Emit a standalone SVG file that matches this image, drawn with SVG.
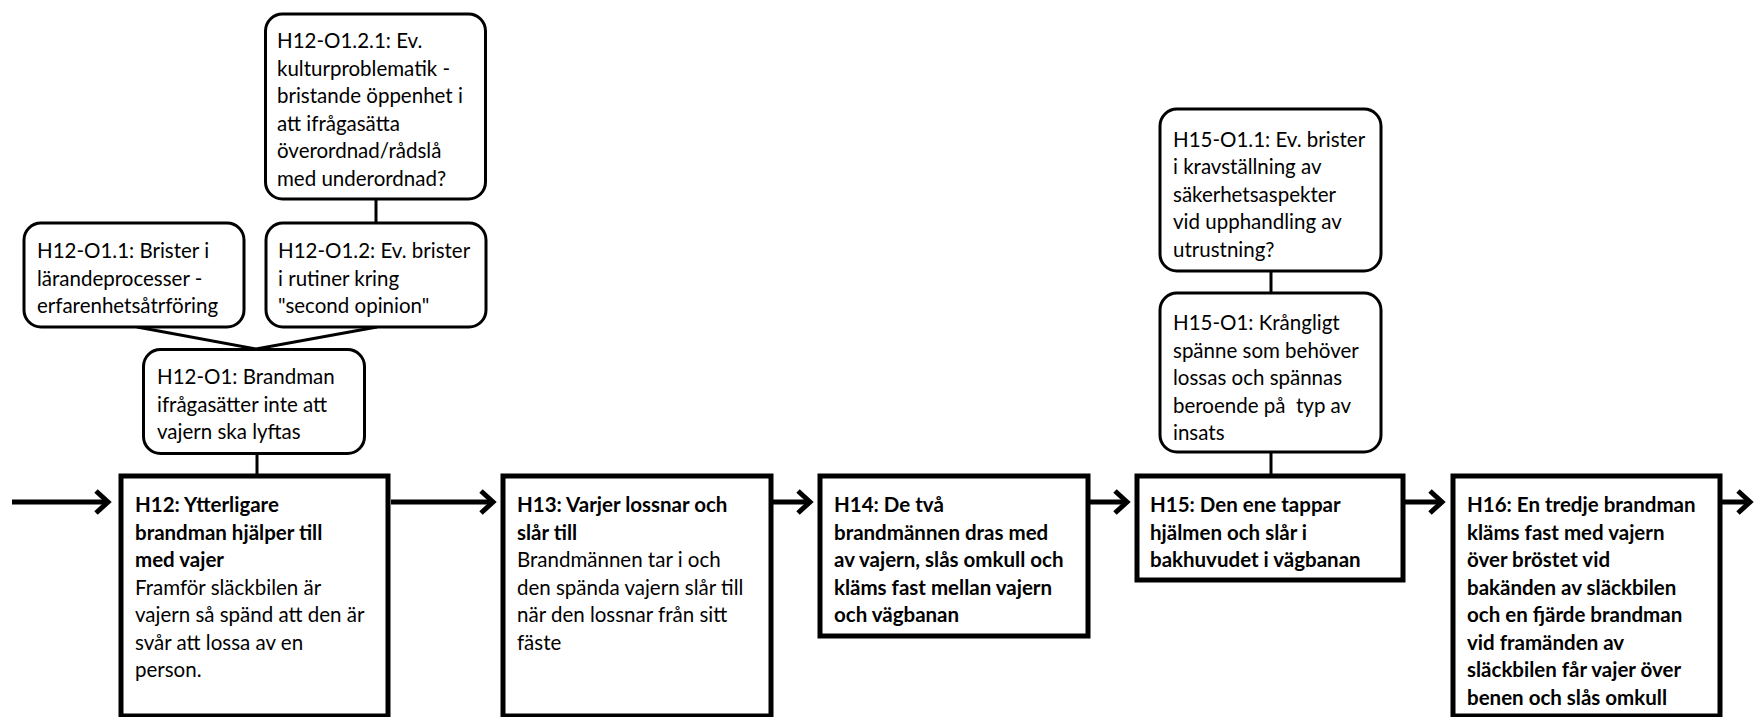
<svg xmlns="http://www.w3.org/2000/svg" width="1758" height="717" viewBox="0 0 1758 717">
<style>
.rb{fill:#fff;stroke:#000;stroke-width:3}
.sb{fill:#fff;stroke:#000;stroke-width:5}
text{font-family:Lato,"Noto Sans",sans-serif;font-size:20.5px;fill:#000}
.b{font-weight:bold}
.c{fill:none;stroke:#000;stroke-width:3}
.a{fill:none;stroke:#000;stroke-width:5}
</style>
<defs>
<marker id="arr" markerUnits="userSpaceOnUse" markerWidth="40" markerHeight="40" viewBox="-20 -20 40 40" refX="0" refY="0" orient="auto" overflow="visible">
<path d="M-12,-11 L0,0 L-12,11" fill="none" stroke="#000" stroke-width="5" stroke-linejoin="miter"/>
</marker>
</defs>
<rect width="1758" height="717" fill="#fff"/>
<g id="connectors">
<line class="c" x1="376" y1="199" x2="376" y2="223"/>
<polyline class="c" points="137,327 256,349 377,327"/>
<line class="c" x1="257" y1="453" x2="257" y2="474"/>
<line class="c" x1="1271" y1="271" x2="1271" y2="293"/>
<line class="c" x1="1271" y1="452" x2="1271" y2="474"/>
<line class="a" x1="12" y1="502" x2="108" y2="502" marker-end="url(#arr)"/>
<line class="a" x1="391" y1="502" x2="493" y2="502" marker-end="url(#arr)"/>
<line class="a" x1="773" y1="502" x2="810" y2="502" marker-end="url(#arr)"/>
<line class="a" x1="1090" y1="502" x2="1127" y2="502" marker-end="url(#arr)"/>
<line class="a" x1="1405" y1="502" x2="1442" y2="502" marker-end="url(#arr)"/>
<line class="a" x1="1722" y1="502" x2="1750" y2="502" marker-end="url(#arr)"/>
</g>
<g id="H12-O1.2.1">
<rect class="rb" x="265.5" y="14" width="220" height="185" rx="17"/>
<text x="277"><tspan x="277" y="48">H12-O1.2.1: Ev.</tspan><tspan x="277" y="75.5">kulturproblematik -</tspan><tspan x="277" y="103">bristande öppenhet i</tspan><tspan x="277" y="130.5">att ifrågasätta</tspan><tspan x="277" y="158">överordnad/rådslå</tspan><tspan x="277" y="185.5">med underordnad?</tspan></text>
</g>
<g id="H12-O1.1">
<rect class="rb" x="24" y="223" width="220" height="104" rx="17"/>
<text><tspan x="37" y="258">H12-O1.1: Brister i</tspan><tspan x="37" y="285.5">lärandeprocesser -</tspan><tspan x="37" y="313">erfarenhetsåtrföring</tspan></text>
</g>
<g id="H12-O1.2">
<rect class="rb" x="266" y="223" width="220" height="104" rx="17"/>
<text><tspan x="278" y="258">H12-O1.2: Ev. brister</tspan><tspan x="278" y="285.5">i rutiner kring</tspan><tspan x="278" y="313">"second opinion"</tspan></text>
</g>
<g id="H12-O1">
<rect class="rb" x="143.5" y="349.5" width="221" height="104" rx="17"/>
<text><tspan x="157" y="384">H12-O1: Brandman</tspan><tspan x="157" y="411.5">ifrågasätter inte att</tspan><tspan x="157" y="439">vajern ska lyftas</tspan></text>
</g>
<g id="H15-O1.1">
<rect class="rb" x="1160" y="109" width="221" height="162" rx="17"/>
<text><tspan x="1173" y="146.5">H15-O1.1: Ev. brister</tspan><tspan x="1173" y="174">i kravställning av</tspan><tspan x="1173" y="201.5">säkerhetsaspekter</tspan><tspan x="1173" y="229">vid upphandling av</tspan><tspan x="1173" y="256.5">utrustning?</tspan></text>
</g>
<g id="H15-O1">
<rect class="rb" x="1160" y="293" width="221" height="159" rx="17"/>
<text xml:space="preserve"><tspan x="1173" y="330">H15-O1: Krångligt</tspan><tspan x="1173" y="357.5">spänne som behöver</tspan><tspan x="1173" y="385">lossas och spännas</tspan><tspan x="1173" y="412.5">beroende på  typ av</tspan><tspan x="1173" y="440">insats</tspan></text>
</g>
<g id="H12">
<rect class="sb" x="121" y="476" width="267" height="240"/>
<text><tspan class="b" x="135" y="512">H12: Ytterligare</tspan><tspan class="b" x="135" y="539.5">brandman hjälper till</tspan><tspan class="b" x="135" y="567">med vajer</tspan><tspan x="135" y="594.5">Framför släckbilen är</tspan><tspan x="135" y="622">vajern så spänd att den är</tspan><tspan x="135" y="649.5">svår att lossa av en</tspan><tspan x="135" y="677">person.</tspan></text>
</g>
<g id="H13">
<rect class="sb" x="503" y="476" width="268" height="240"/>
<text><tspan class="b" x="517" y="512">H13: Varjer lossnar och</tspan><tspan class="b" x="517" y="539.5">slår till</tspan><tspan x="517" y="567">Brandmännen tar i och</tspan><tspan x="517" y="594.5">den spända vajern slår till</tspan><tspan x="517" y="622">när den lossnar från sitt</tspan><tspan x="517" y="649.5">fäste</tspan></text>
</g>
<g id="H14">
<rect class="sb" x="820" y="476" width="268" height="160"/>
<text class="b"><tspan x="834" y="512">H14: De två</tspan><tspan x="834" y="539.5">brandmännen dras med</tspan><tspan x="834" y="567">av vajern, slås omkull och</tspan><tspan x="834" y="594.5">kläms fast mellan vajern</tspan><tspan x="834" y="622">och vägbanan</tspan></text>
</g>
<g id="H15">
<rect class="sb" x="1137" y="476" width="266" height="104"/>
<text class="b"><tspan x="1150" y="512">H15: Den ene tappar</tspan><tspan x="1150" y="539.5">hjälmen och slår i</tspan><tspan x="1150" y="567">bakhuvudet i vägbanan</tspan></text>
</g>
<g id="H16">
<rect class="sb" x="1453" y="476" width="267" height="240"/>
<text class="b"><tspan x="1467" y="512">H16: En tredje brandman</tspan><tspan x="1467" y="539.5">kläms fast med vajern</tspan><tspan x="1467" y="567">över bröstet vid</tspan><tspan x="1467" y="594.5">bakänden av släckbilen</tspan><tspan x="1467" y="622">och en fjärde brandman</tspan><tspan x="1467" y="649.5">vid framänden av</tspan><tspan x="1467" y="677">släckbilen får vajer över</tspan><tspan x="1467" y="704.5">benen och slås omkull</tspan></text>
</g>
</svg>
